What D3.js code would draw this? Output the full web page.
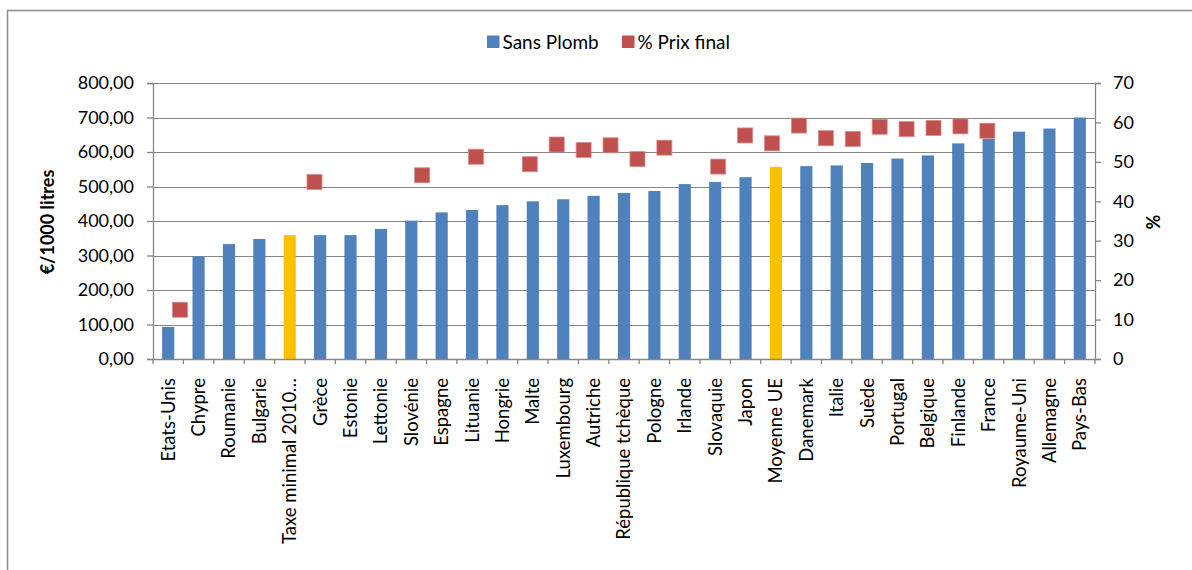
<!DOCTYPE html>
<html><head><meta charset="utf-8">
<script src="https://cdn.jsdelivr.net/npm/d3@7"></script>
<style>body{margin:0;background:#fff}svg{display:block}</style>
</head><body><svg id="c" width="1192" height="570"></svg>
<script>
const categories = ["Etats-Unis","Chypre","Roumanie","Bulgarie","Taxe minimal 2010…","Grèce","Estonie","Lettonie","Slovénie","Espagne","Lituanie","Hongrie","Malte","Luxembourg","Autriche","République tchèque","Pologne","Irlande","Slovaquie","Japon","Moyenne UE","Danemark","Italie","Suède","Portugal","Belgique","Finlande","France","Royaume-Uni","Allemagne","Pays-Bas"];
const sansPlomb = [93,297,333,348,359,359,359,377,401,425,432,446,457,463,473,481,487,507,513,527,557,559,561,568,581,590,625,639,659,668,700];
const highlighted = ["Taxe minimal 2010…","Moyenne UE"];
// % Prix final series: plotted on its own 36-slot secondary category axis (null = empty slot)
const pctSlots = d3.range(36);
const prixFinalPct = [null,12.5,null,null,null,null,44.9,null,null,null,46.6,null,51.3,null,49.4,54.4,53.0,54.2,50.7,53.6,null,48.8,56.7,54.7,59.2,56.0,55.8,58.9,58.3,58.6,59.0,57.9,null,null,null,null];
const leftTicks = [0,100,200,300,400,500,600,700,800];
const rightTicks = [0,10,20,30,40,50,60,70];
const legendLabels = ["Sans Plomb","% Prix final"];
const leftTitle = "€/1000 litres";
const rightTitle = "%";

const colBlue = "#4F81BD", colOrange = "#FFC000", colRed = "#C0504D", colAxis = "#868686";
const font = "Lato, 'Open Sans', sans-serif";
const svg = d3.select("#c");
svg.append("rect").attr("width",1192).attr("height",570).attr("fill","#fff");
// chart border
svg.append("path").attr("d","M7.5,580 V10.5 H1200").attr("fill","none").attr("stroke","#8c8c8c").attr("stroke-width",1.5);

const L = 153, R = 1095, T = 83, B = 359;
const x = d3.scaleBand().domain(categories).range([L,R]).padding(0);
const x2 = d3.scalePoint().domain(pctSlots).range([L,R]);
const y = d3.scaleLinear().domain([0,800]).range([B,T]);
const y2 = d3.scaleLinear().domain([0,70]).range([B,T]);
const fmt = d3.formatLocale({decimal:",",thousands:" ",grouping:[3],currency:["","€"]}).format(".2f");

// gridlines
svg.append("g").selectAll("line").data(leftTicks.filter(d=>d>0)).join("line")
  .attr("x1",L).attr("x2",R).attr("y1",d=>Math.round(y(d))+0.5).attr("y2",d=>Math.round(y(d))+0.5)
  .attr("stroke",colAxis).attr("stroke-width",1.2);

// bars
const bw = x.bandwidth()*0.4;
svg.append("g").selectAll("rect").data(categories).join("rect")
  .attr("x",(d)=>x(d)+x.bandwidth()/2-bw/2).attr("width",bw)
  .attr("y",(d,i)=>y(sansPlomb[i])).attr("height",(d,i)=>B-y(sansPlomb[i]))
  .attr("fill",d=>highlighted.includes(d)?colOrange:colBlue);

// axes
const gl = svg.append("g").attr("transform",`translate(${L},0)`)
  .call(d3.axisLeft(y).tickValues(leftTicks).tickFormat(fmt).tickSize(6).tickPadding(13));
const gr = svg.append("g").attr("transform",`translate(${R},0)`)
  .call(d3.axisRight(y2).tickValues(rightTicks).tickFormat(d3.format("d")).tickSize(6).tickPadding(12));
const gb = svg.append("g").attr("transform",`translate(0,${B})`)
  .call(d3.axisBottom(x).tickSize(0).tickFormat(""));
[gl,gr,gb].forEach(g=>{
  g.select(".domain").attr("stroke",colAxis).attr("stroke-width",1.3);
  g.selectAll(".tick line").attr("stroke",colAxis).attr("stroke-width",1.3);
  g.selectAll("text").attr("font-family",font).attr("font-size",18).attr("fill","#000");
});
// category boundary ticks
const bounds = categories.map(c=>x(c)).concat([R]);
gb.append("g").selectAll("line").data(bounds).join("line")
  .attr("x1",d=>d).attr("x2",d=>d).attr("y1",0).attr("y2",5).attr("stroke",colAxis).attr("stroke-width",1.3);
// category labels
svg.append("g").selectAll("text").data(categories).join("text")
  .attr("transform",d=>`translate(${x(d)+x.bandwidth()/2},${B+19}) rotate(-90)`)
  .attr("text-anchor","end").attr("dy","0.35em")
  .attr("font-family",font).attr("font-size",18.5).attr("fill","#000").text(d=>d);

// markers
const ms = 15;
svg.append("g").selectAll("rect").data(pctSlots.filter(i=>prixFinalPct[i]!==null)).join("rect")
  .attr("x",i=>x2(i)-ms/2).attr("y",i=>y2(prixFinalPct[i])-ms/2)
  .attr("width",ms).attr("height",ms).attr("fill",colRed)
  .attr("stroke","#d98a88").attr("stroke-width",0.8);

// axis titles
svg.append("text").attr("transform",`translate(54,222) rotate(-90)`).attr("text-anchor","middle")
  .attr("font-family",font).attr("font-size",18).attr("font-weight","bold").text(leftTitle);
svg.append("text").attr("transform",`translate(1160,222) rotate(-90)`).attr("text-anchor","middle")
  .attr("font-family",font).attr("font-size",18).attr("font-weight","bold").text(rightTitle);

// legend
const leg = svg.append("g");
const legItems = [{x:487,c:colBlue,t:legendLabels[0]},{x:622,c:colRed,t:legendLabels[1]}];
legItems.forEach(it=>{
  leg.append("rect").attr("x",it.x).attr("y",35.5).attr("width",12.5).attr("height",12.5).attr("fill",it.c);
  leg.append("text").attr("x",it.x+15.5).attr("y",42).attr("dy","0.35em")
    .attr("font-family",font).attr("font-size",19).attr("fill","#000").text(it.t);
});
</script></body></html>
